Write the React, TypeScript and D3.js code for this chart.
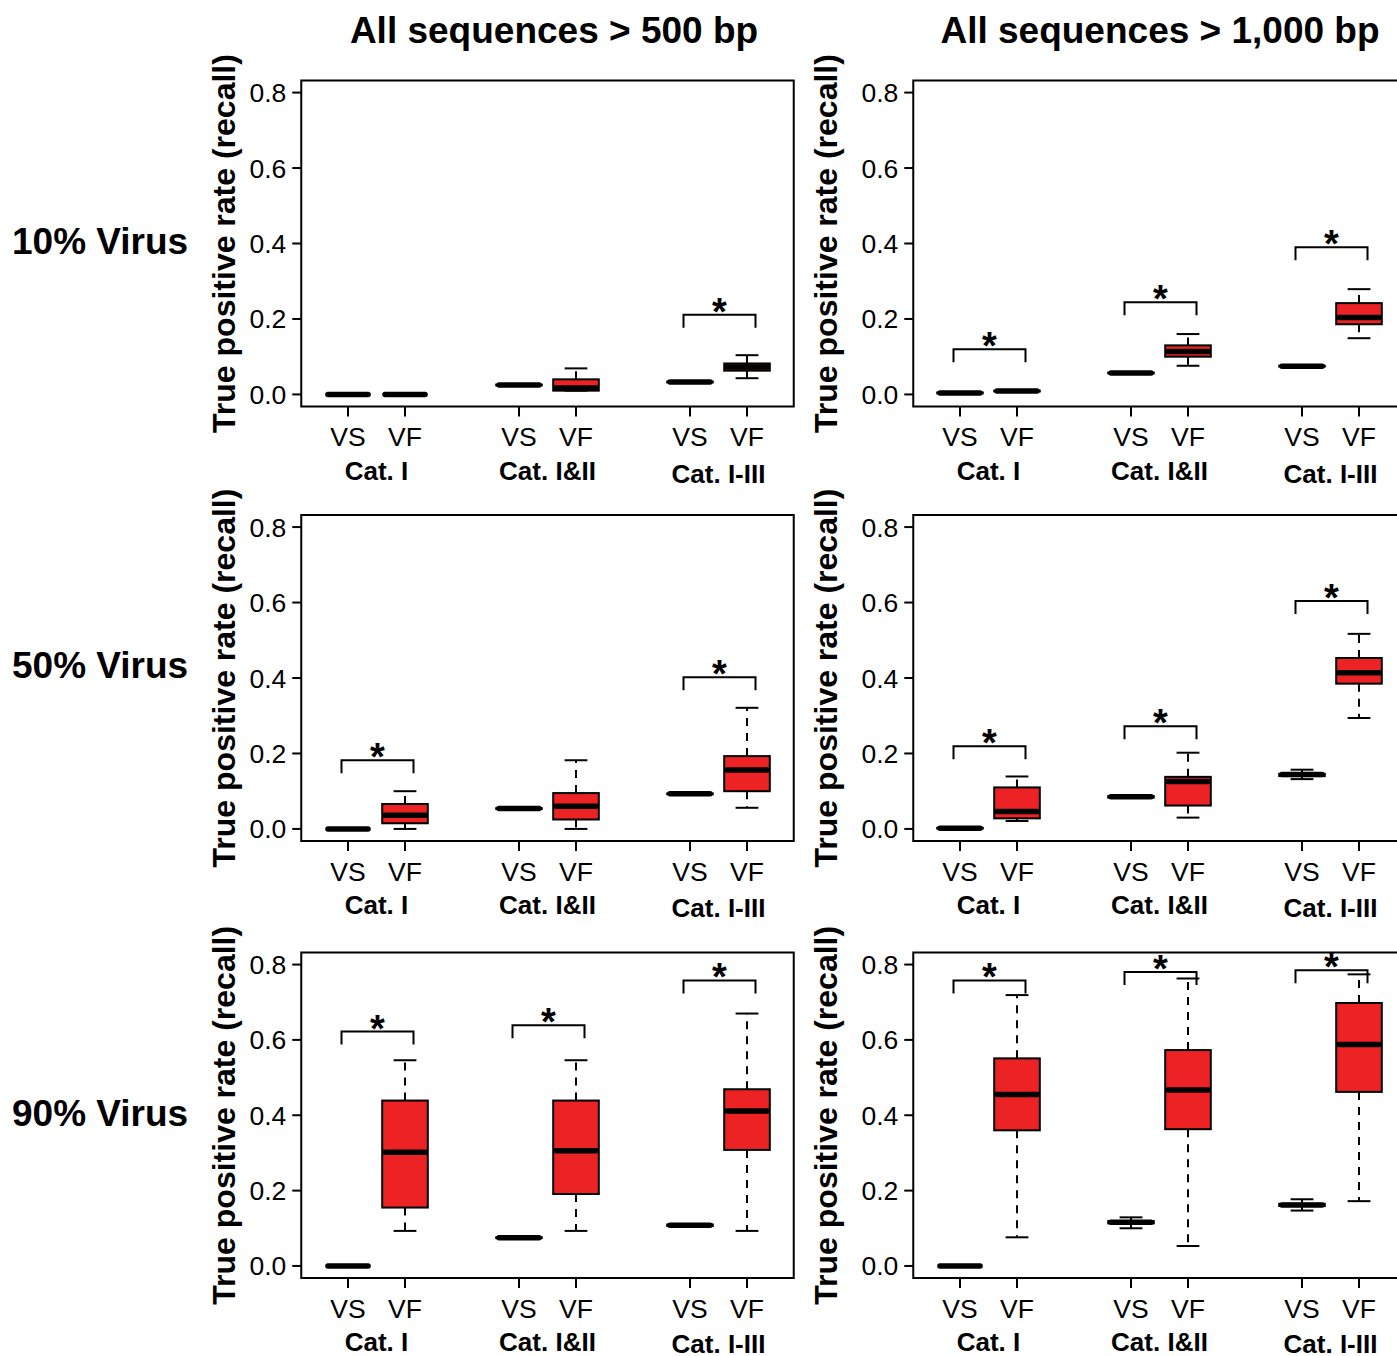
import React from "react";
import * as d3 from "d3";

// ---------- data ----------
const columnTitles = ["All sequences > 500 bp", "All sequences > 1,000 bp"];
const rowLabels = ["10% Virus", "50% Virus", "90% Virus"];
const groupLabels = ["Cat. I", "Cat. I&II", "Cat. I-III"];
const methodLabels = ["VS", "VF"];
const boxPositions = [1, 2, 4, 5, 7, 8];
const yTickValues = [0, 0.2, 0.4, 0.6, 0.8];
const yTitle = "True positive rate (recall)";

// five-number summaries [lower whisker, Q1, median, Q3, upper whisker]
// order: VS Cat.I, VF Cat.I, VS Cat.I&II, VF Cat.I&II, VS Cat.I-III, VF Cat.I-III
const stats500_10 = [
  [0, 0, 0, 0, 0],
  [0, 0, 0, 0, 0],
  [0.024, 0.024, 0.025, 0.026, 0.026],
  [0.01, 0.01, 0.017, 0.04, 0.069],
  [0.032, 0.032, 0.033, 0.034, 0.034],
  [0.043, 0.063, 0.073, 0.082, 0.104],
];
const stats1000_10 = [
  [0.003, 0.003, 0.004, 0.005, 0.005],
  [0.008, 0.008, 0.009, 0.01, 0.01],
  [0.056, 0.056, 0.057, 0.058, 0.058],
  [0.076, 0.1, 0.114, 0.13, 0.16],
  [0.074, 0.074, 0.075, 0.076, 0.076],
  [0.149, 0.186, 0.204, 0.242, 0.279],
];
const stats500_50 = [
  [0, 0, 0, 0, 0],
  [0, 0.015, 0.036, 0.066, 0.1],
  [0.053, 0.053, 0.054, 0.055, 0.055],
  [0, 0.025, 0.06, 0.095, 0.182],
  [0.091, 0.092, 0.093, 0.094, 0.095],
  [0.056, 0.1, 0.156, 0.193, 0.321],
];
const stats1000_50 = [
  [0.001, 0.001, 0.002, 0.003, 0.003],
  [0.021, 0.028, 0.046, 0.11, 0.139],
  [0.082, 0.083, 0.085, 0.087, 0.088],
  [0.03, 0.062, 0.126, 0.138, 0.202],
  [0.132, 0.14, 0.144, 0.146, 0.157],
  [0.294, 0.385, 0.414, 0.453, 0.517],
];
const stats500_90 = [
  [0, 0, 0, 0, 0],
  [0.093, 0.155, 0.302, 0.439, 0.546],
  [0.074, 0.074, 0.075, 0.076, 0.076],
  [0.093, 0.191, 0.306, 0.439, 0.546],
  [0.105, 0.106, 0.108, 0.11, 0.111],
  [0.093, 0.308, 0.411, 0.469, 0.67],
];
const stats1000_90 = [
  [0, 0, 0, 0, 0],
  [0.076, 0.36, 0.455, 0.551, 0.719],
  [0.1, 0.113, 0.116, 0.119, 0.129],
  [0.053, 0.363, 0.467, 0.573, 0.763],
  [0.147, 0.159, 0.162, 0.165, 0.177],
  [0.172, 0.462, 0.588, 0.698, 0.774],
];

// significance brackets: [group index, bracket height]
const sig500_10 = [[2, 0.211]];
const sig1000_10 = [[0, 0.12], [1, 0.244], [2, 0.39]];
const sig500_50 = [[0, 0.182], [2, 0.402]];
const sig1000_50 = [[0, 0.219], [1, 0.272], [2, 0.604]];
const sig500_90 = [[0, 0.622], [1, 0.639], [2, 0.758]];
const sig1000_90 = [[0, 0.758], [1, 0.78], [2, 0.785]];

const panels = [
  { row: 0, col: 0, stats: stats500_10, sig: sig500_10 },
  { row: 0, col: 1, stats: stats1000_10, sig: sig1000_10 },
  { row: 1, col: 0, stats: stats500_50, sig: sig500_50 },
  { row: 1, col: 1, stats: stats1000_50, sig: sig1000_50 },
  { row: 2, col: 0, stats: stats500_90, sig: sig500_90 },
  { row: 2, col: 1, stats: stats1000_90, sig: sig1000_90 },
];

// ---------- layout ----------
const W = 1397;
const H = 1356;
const FONT = "'Liberation Sans', Arial, Helvetica, sans-serif";
const RED = "#ed2224";
const rowFrames = [
  [80.5, 406.5],
  [515, 841],
  [952.5, 1278],
];
const colFirst = [348, 960];
const unit = 57;
const yTitleX = [235, 837];
const titleX = [554, 1160];
const rowLabelY = [254, 678, 1126];

function Panel({ row, col, stats, sig }) {
  const [top, bottom] = rowFrames[row];
  const x0 = colFirst[col] - unit;
  const x = d3.scaleLinear().domain([0, 1]).range([x0, x0 + unit]);
  const y = d3.scaleLinear().domain([-0.032, 0.832]).range([bottom, top]);
  const left = x(0.18);
  const right = x(8.82);
  const bw = unit * 0.8;
  const lw = 2;
  return (
    <g>
      {/* frame */}
      <rect x={left} y={top} width={right - left} height={bottom - top} fill="none" stroke="#000" strokeWidth={lw} />
      {/* y axis */}
      {yTickValues.map((t) => (
        <g key={t}>
          <line x1={left - 9} x2={left} y1={y(t)} y2={y(t)} stroke="#000" strokeWidth={lw} />
          <text x={left - 15} y={y(t) + 9.5} textAnchor="end" fontSize={26.5} fontFamily={FONT}>
            {d3.format(".1f")(t)}
          </text>
        </g>
      ))}
      <text
        transform={`translate(${yTitleX[col]},${(top + bottom) / 2}) rotate(-90)`}
        textAnchor="middle"
        fontSize={32}
        fontWeight="bold"
        fontFamily={FONT}
      >
        {yTitle}
      </text>
      {/* x axis */}
      {boxPositions.map((p, i) => (
        <g key={p}>
          <line x1={x(p)} x2={x(p)} y1={bottom} y2={bottom + 10} stroke="#000" strokeWidth={lw} />
          <text x={x(p)} y={bottom + 39.5} textAnchor="middle" fontSize={26.5} fontFamily={FONT}>
            {methodLabels[i % 2]}
          </text>
        </g>
      ))}
      {groupLabels.map((g, gi) => (
        <text
          key={g}
          x={x((boxPositions[gi * 2] + boxPositions[gi * 2 + 1]) / 2)}
          y={bottom + (gi === 2 ? (row === 2 ? 75 : 76) : 73)}
          textAnchor="middle"
          fontSize={26}
          fontWeight="bold"
          fontFamily={FONT}
        >
          {g}
        </text>
      ))}
      {/* boxes */}
      {stats.map((s, i) => {
        const cx = x(boxPositions[i]);
        const [lo, q1, med, q3, hi] = s;
        const fill = i % 2 === 1 ? RED : "#fff";
        return (
          <g key={i}>
            <line x1={cx} x2={cx} y1={y(q3)} y2={y(hi)} stroke="#000" strokeWidth={lw} strokeDasharray="8 7" />
            <line x1={cx} x2={cx} y1={y(q1)} y2={y(lo)} stroke="#000" strokeWidth={lw} strokeDasharray="8 7" />
            <line x1={cx - bw / 4} x2={cx + bw / 4} y1={y(hi)} y2={y(hi)} stroke="#000" strokeWidth={lw} />
            <line x1={cx - bw / 4} x2={cx + bw / 4} y1={y(lo)} y2={y(lo)} stroke="#000" strokeWidth={lw} />
            <rect x={cx - bw / 2} y={y(q3)} width={bw} height={Math.max(0, y(q1) - y(q3))} fill={fill} stroke="#000" strokeWidth={lw} />
            <line
              x1={cx - bw / 2 + 2.75}
              x2={cx + bw / 2 - 2.75}
              y1={y(med)}
              y2={y(med)}
              stroke="#000"
              strokeWidth={5.5}
              strokeLinecap="round"
            />
          </g>
        );
      })}
      {/* significance brackets */}
      {sig.map(([gi, v]) => {
        const cx = x((boxPositions[gi * 2] + boxPositions[gi * 2 + 1]) / 2) + 1;
        const by = y(v);
        const hw = 36;
        return (
          <g key={gi}>
            <path
              d={`M${cx - hw},${by + 13}V${by}H${cx + hw}V${by + 13}`}
              fill="none"
              stroke="#000"
              strokeWidth={lw}
            />
            <text x={cx} y={by + 10} textAnchor="middle" fontSize={38} fontWeight="bold" fontFamily={FONT}>
              *
            </text>
          </g>
        );
      })}
    </g>
  );
}

export default function App() {
  return (
    <svg
      width={W}
      height={H}
      viewBox={`0 0 ${W} ${H}`}
      style={{ position: "absolute", left: 0, top: 0, background: "#fff" }}
    >
      <rect x={0} y={0} width={W} height={H} fill="#fff" />
      {columnTitles.map((t, i) => (
        <text key={t} x={titleX[i]} y={43} textAnchor="middle" fontSize={37} fontWeight="bold" fontFamily={FONT}>
          {t}
        </text>
      ))}
      {rowLabels.map((t, i) => (
        <text key={t} x={12} y={rowLabelY[i]} fontSize={37} fontWeight="bold" fontFamily={FONT}>
          {t}
        </text>
      ))}
      {panels.map((p, i) => (
        <Panel key={i} {...p} />
      ))}
    </svg>
  );
}
